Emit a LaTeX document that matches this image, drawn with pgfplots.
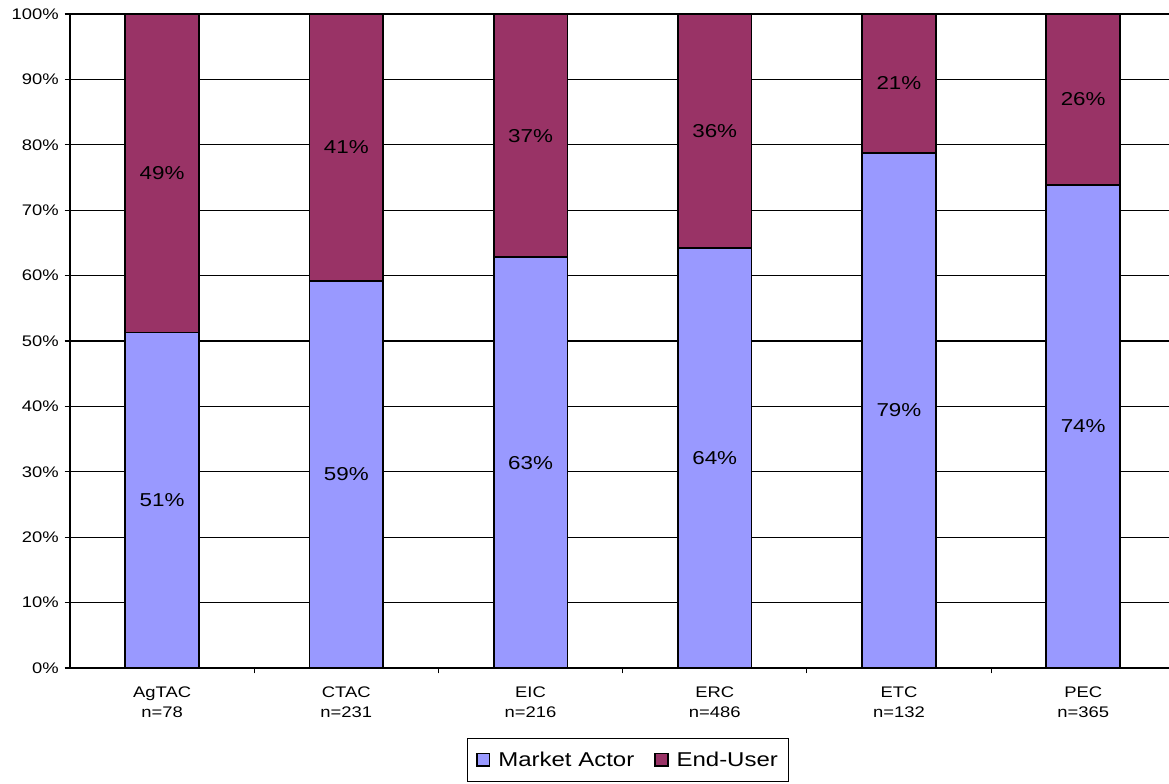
\documentclass[border=0pt]{standalone}
\usepackage{pgfplots}
\pgfplotsset{compat=1.18}
\usepackage{fontspec}
\setmainfont{Liberation Sans}[FakeStretch=1.2]
\definecolor{actor}{HTML}{9999FF}
\definecolor{enduser}{HTML}{993366}
\begin{document}
\begin{tikzpicture}
\useasboundingbox (-52.5pt,-86.25pt) rectangle (824.25pt,501pt);
\begin{axis}[
  at={(0pt,0pt)}, anchor=south west,
  scale only axis, width=824.25pt, height=490.5pt,
  ybar stacked, bar width=0.4,
  xmin=-0.5, xmax=5.466, ymin=0, ymax=100,
  axis x line*=bottom, axis y line*=left,
  axis line style={black, line width=0.8pt},
  xtick={0,...,5},
  xticklabels={{AgTAC\\n=78},{CTAC\\n=231},{EIC\\n=216},{ERC\\n=486},{ETC\\n=132},{PEC\\n=365}},
  xticklabel style={align=center, font=\fontsize{11.5}{15}\selectfont, yshift=-6.5pt},
  major x tick style={draw=none},
  minor xtick={0.5,1.5,2.5,3.5,4.5},
  ytick={0,10,...,100},
  yticklabel={\pgfmathprintnumber{\tick}\%},
  yticklabel style={font=\fontsize{11.5}{13}\selectfont, xshift=-1pt},
  /pgf/number format/assume math mode=true,
  tick align=outside, major tick length=4pt, minor tick length=4pt,
  tick style={black, line width=0.8pt},
  ymajorgrids, major grid style={black, line width=0.8pt},
  % segment labels sit in the middle of each stacked segment
  nodes near coords={\pgfmathprintnumber[fixed,precision=0]{\pgfplotspointmeta}\%},
  nodes near coords style={font=\fontsize{14}{16}\selectfont, anchor=center},
  legend style={at={(0.508,-0.107)}, anchor=north, legend columns=2,
    draw=black, line width=0.75pt, font=\fontsize{15}{18}\selectfont,
    inner xsep=6pt, inner ysep=8pt,
    /tikz/every odd column/.append style={column sep=4pt},
    /tikz/every even column/.append style={column sep=13pt}},
  legend image code/.code={\draw[#1, line width=1.2pt] (0pt,-4.5pt) rectangle (9.5pt,5pt);},
]
\addplot[fill=actor, draw=black, line width=1.3pt]
  coordinates {(0,51.3) (1,59.2) (2,62.8) (3,64.2) (4,78.8) (5,73.9)};
\addplot[fill=enduser, draw=black, line width=1.3pt]
  coordinates {(0,48.7) (1,40.8) (2,37.2) (3,35.8) (4,21.2) (5,26.1)};
\legend{Market Actor, End-User}
\end{axis}
\end{tikzpicture}
\end{document}
